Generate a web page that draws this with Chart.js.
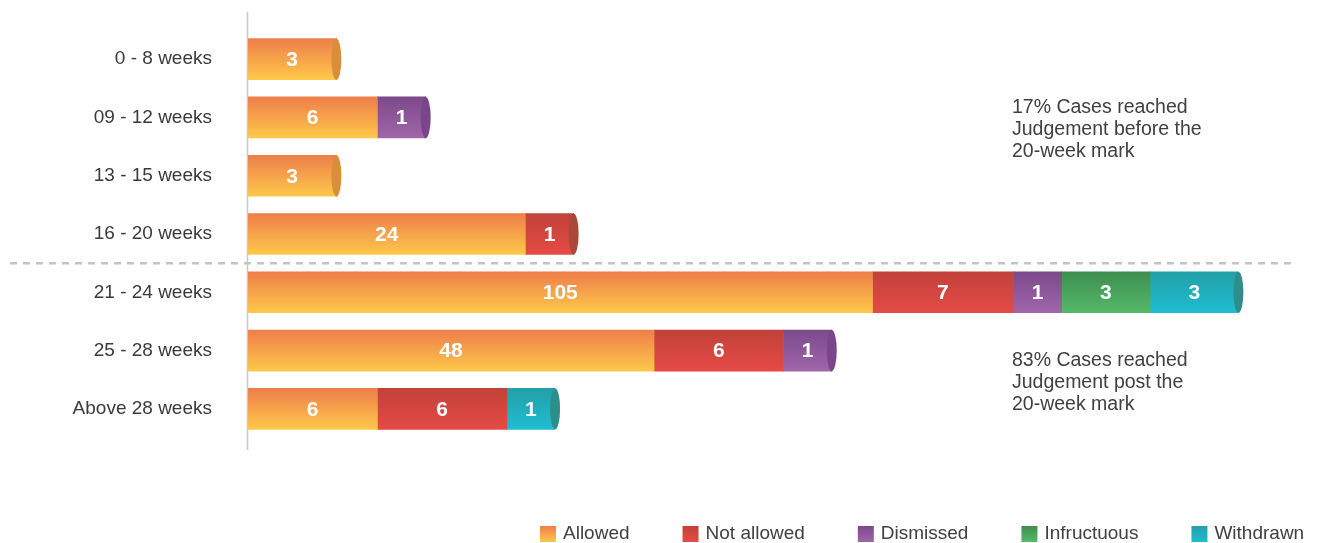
<!DOCTYPE html>
<html>
<head>
<meta charset="utf-8">
<script src="https://cdn.jsdelivr.net/npm/chart.js@4/dist/chart.umd.min.js"></script>
<style>
  html, body { margin: 0; padding: 0; background: #fff; overflow: hidden; }
  #wrap { width: 1317px; height: 543px; }
</style>
</head>
<body>
<div id="wrap"><canvas id="judgementChart" width="1317" height="543"></canvas></div>
<script>
/* ================= DATA ================= */
const categories = [
  "0 - 8 weeks", "09 - 12 weeks", "13 - 15 weeks", "16 - 20 weeks",
  "21 - 24 weeks", "25 - 28 weeks", "Above 28 weeks"
];
const allowed     = [3, 6, 3, 24, 105, 48, 6];
const notAllowed  = [0, 0, 0, 1, 7, 6, 6];
const dismissed   = [0, 1, 0, 0, 1, 1, 0];
const infructuous = [0, 0, 0, 0, 3, 0, 0];
const withdrawn   = [0, 0, 0, 0, 3, 0, 1];

const seriesNames = ["Allowed", "Not allowed", "Dismissed", "Infructuous", "Withdrawn"];

const noteBefore = ["17% Cases reached", "Judgement before the", "20-week mark"];
const noteAfter  = ["83% Cases reached", "Judgement post the", "20-week mark"];

/* ================= STYLE ================= */
// top / bottom of the cylinder gradient, and the end cap colour
const palette = [
  { top: "#ee7e4a", bottom: "#fec84a", cap: "#d98f3a" },
  { top: "#c1423a", bottom: "#e64a45", cap: "#a8493a" },
  { top: "#7b4a8b", bottom: "#a066aa", cap: "#7b4589" },
  { top: "#3e8e4f", bottom: "#55ba6a", cap: "#3a7f47" },
  { top: "#22a0a8", bottom: "#1fbdd2", cap: "#2e8e8a" }
];
const BAR_H = 41;
const FONT = "'Liberation Sans', Arial, sans-serif";

// the infographic does not draw lengths proportionally, so squash the counts a bit
const squash = v => (v > 0 ? Math.pow(v, 0.55) : 0);

function vGradient(ctx, top, h, p) {
  const g = ctx.createLinearGradient(0, top, 0, top + h);
  g.addColorStop(0, p.top);
  g.addColorStop(1, p.bottom);
  return g;
}

/* ================= DATASETS ================= */
const rawSeries = [allowed, notAllowed, dismissed, infructuous, withdrawn];

const datasets = rawSeries.map((values, d) => ({
  label: seriesNames[d],
  data: values.map(squash),
  borderWidth: 0,
  barThickness: BAR_H,
  backgroundColor: c => {
    const chart = c.chart;
    if (!chart.chartArea || c.dataIndex === undefined) return palette[d].bottom;
    const y = chart.scales.y.getPixelForValue(c.dataIndex);
    return vGradient(chart.ctx, y - BAR_H / 2, BAR_H, palette[d]);
  }
}));

/* ================= PLUGINS ================= */
const decorations = {
  id: "decorations",
  beforeDatasetsDraw(chart) {
    const { ctx, chartArea, scales } = chart;
    ctx.save();
    // axis line
    ctx.strokeStyle = "#c8c8c8";
    ctx.lineWidth = 1.5;
    ctx.beginPath();
    ctx.moveTo(chartArea.left - 0.5, chartArea.top - 18);
    ctx.lineTo(chartArea.left - 0.5, chartArea.bottom + 12);
    ctx.stroke();
    // dashed split at the 20-week mark
    const ySplit = (scales.y.getPixelForValue(3) + scales.y.getPixelForValue(4)) / 2;
    ctx.setLineDash([7, 6]);
    ctx.lineWidth = 2.5;
    ctx.strokeStyle = "#c4c4c4";
    ctx.beginPath();
    ctx.moveTo(10, ySplit);
    ctx.lineTo(chartArea.right, ySplit);
    ctx.stroke();
    ctx.restore();
  },
  afterDatasetsDraw(chart) {
    const { ctx } = chart;
    ctx.save();

    // end caps on the last segment of each row
    categories.forEach((_, i) => {
      let last = -1;
      rawSeries.forEach((vals, d) => { if (vals[i] > 0) last = d; });
      if (last < 0) return;
      const el = chart.getDatasetMeta(last).data[i];
      ctx.fillStyle = palette[last].cap;
      ctx.beginPath();
      ctx.ellipse(el.x, el.y, 5, el.height / 2, 0, 0, Math.PI * 2);
      ctx.fill();
    });

    // value labels
    ctx.fillStyle = "#ffffff";
    ctx.font = "bold 21px " + FONT;
    ctx.textAlign = "center";
    ctx.textBaseline = "middle";
    rawSeries.forEach((vals, d) => {
      chart.getDatasetMeta(d).data.forEach((el, i) => {
        if (!vals[i]) return;
        ctx.fillText(String(vals[i]), (el.x + el.base) / 2, el.y + 1);
      });
    });
    ctx.restore();
  },
  afterDraw(chart) {
    const { ctx } = chart;
    ctx.save();
    // side notes
    ctx.fillStyle = "#404040";
    ctx.font = "19.5px " + FONT;
    ctx.textAlign = "left";
    ctx.textBaseline = "middle";
    noteBefore.forEach((t, k) => ctx.fillText(t, 1012, 108 + k * 22));
    noteAfter.forEach((t, k) => ctx.fillText(t, 1012, 361 + k * 22));

    // legend
    ctx.font = "19px " + FONT;
    let x = 540;
    const yMid = 534;
    seriesNames.forEach((name, d) => {
      ctx.fillStyle = vGradient(ctx, yMid - 8, 16, palette[d]);
      ctx.fillRect(x, yMid - 8, 16, 16);
      ctx.fillStyle = "#404040";
      ctx.fillText(name, x + 23, yMid);
      x += 23 + ctx.measureText(name).width + 53;
    });
    ctx.restore();
  }
};

/* ================= CHART ================= */
new Chart(document.getElementById("judgementChart"), {
  type: "bar",
  data: { labels: categories, datasets },
  options: {
    indexAxis: "y",
    responsive: false,
    animation: false,
    devicePixelRatio: 1,
    layout: { padding: { top: 30, bottom: 105, left: 0, right: 21 } },
    plugins: {
      legend: { display: false },
      tooltip: { enabled: false }
    },
    scales: {
      x: { stacked: true, display: false, min: 0, max: 21.7 },
      y: {
        stacked: true,
        // invisible tick marks push the labels away from the axis
        grid: { display: false, drawTicks: true, tickLength: 36 },
        border: { display: false },
        ticks: { color: "#3a3a3a", font: { family: FONT, size: 19 }, padding: 0 },
        afterFit: s => { s.width = 248; }
      }
    }
  },
  plugins: [decorations]
});
</script>
</body>
</html>
